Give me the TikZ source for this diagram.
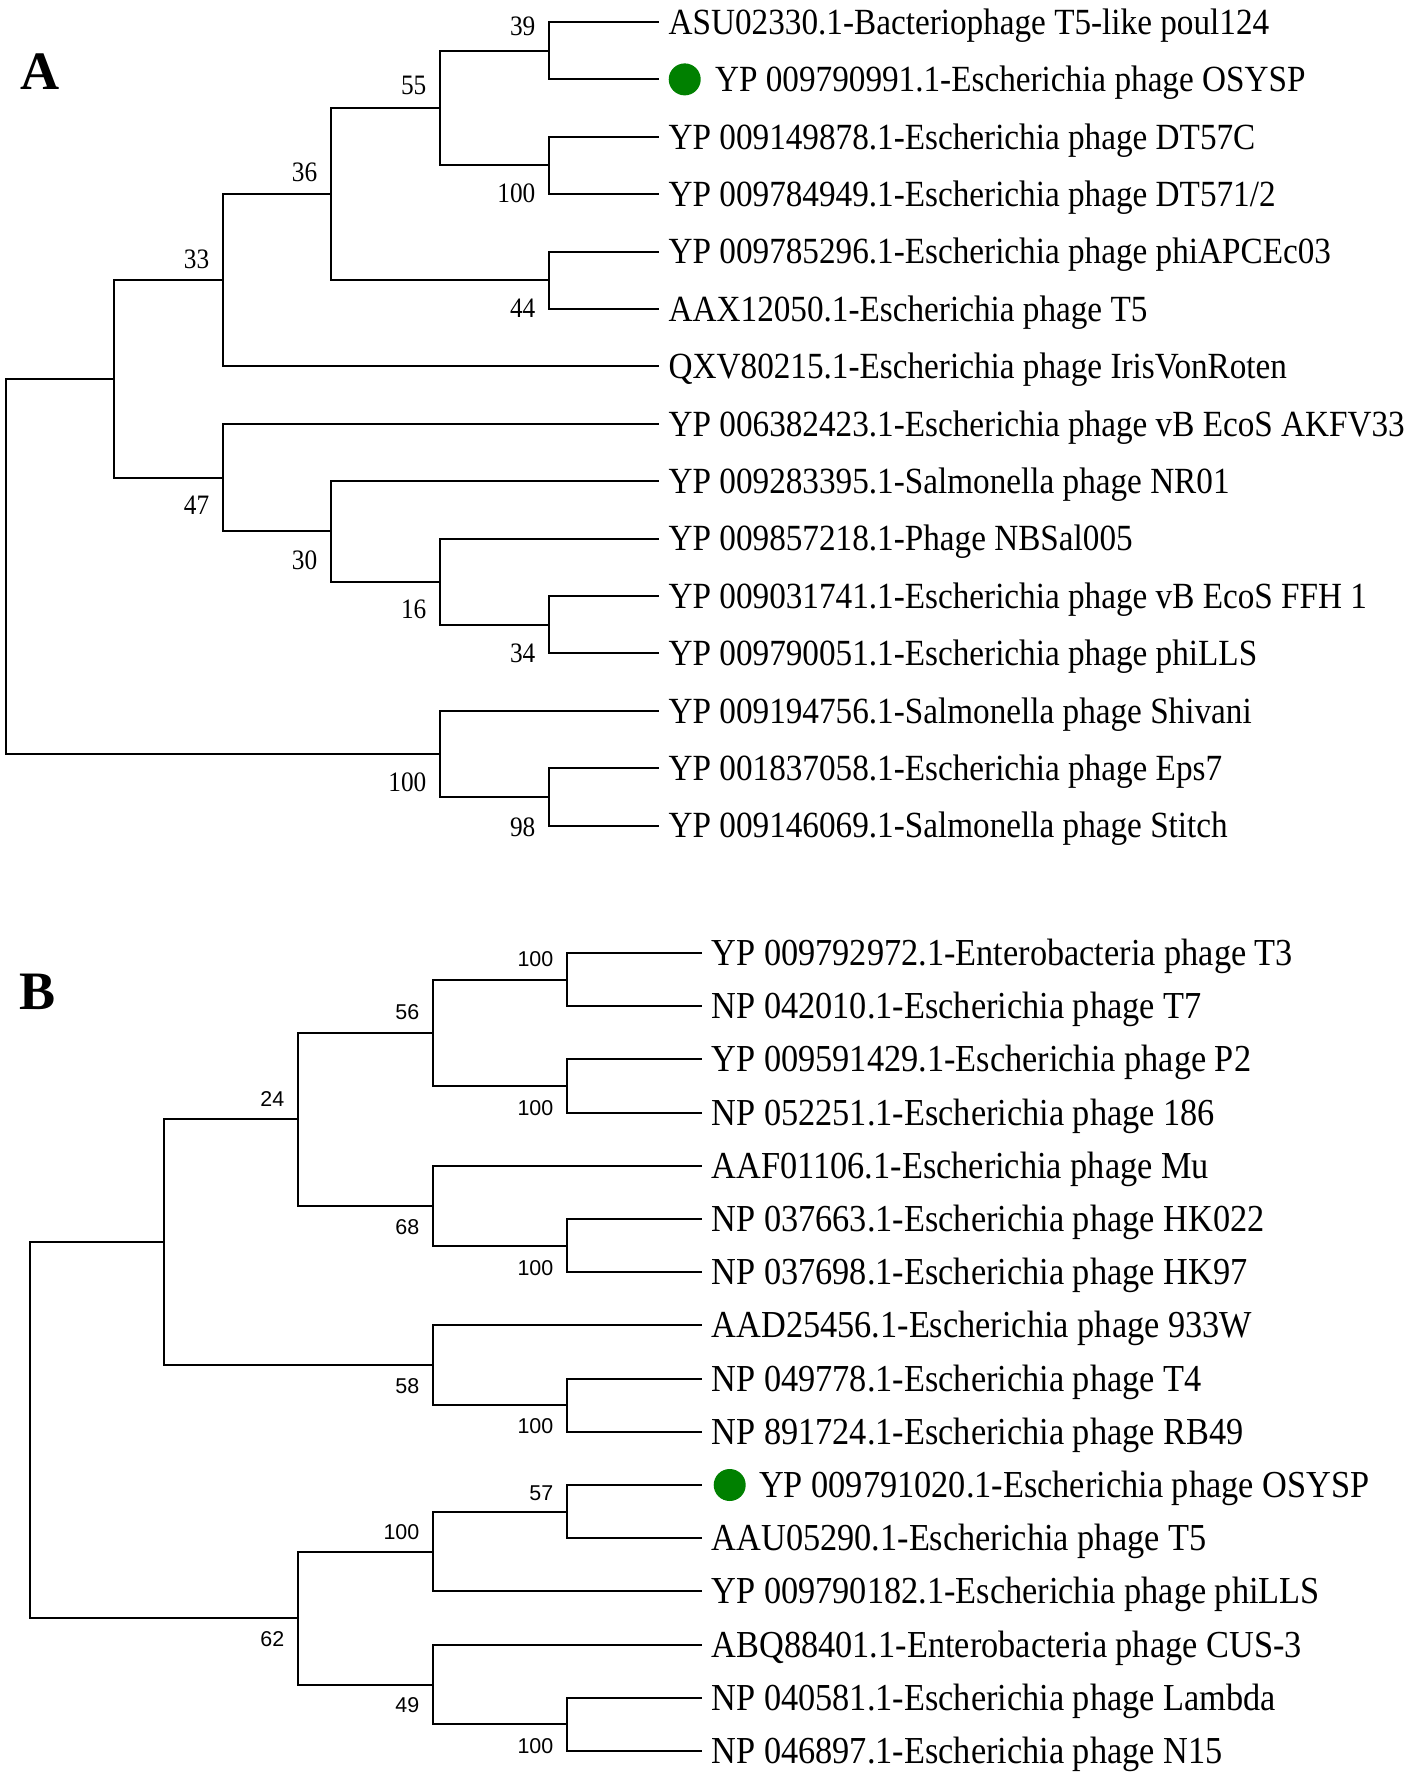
\documentclass[tikz,border=0pt]{standalone}
\usepackage{fontspec}
\setmainfont{Liberation Serif}
\newfontfamily\leaffont[FakeStretch=0.9]{Liberation Serif}
\newfontfamily\bootsans{Liberation Sans}
\usetikzlibrary{positioning}
\definecolor{osyspgreen}{RGB}{0,128,0}

\tikzset{
  branch/.style={line width=0.2mm, black},
  panel/.style={font=\fontsize{15.4pt}{17pt}\selectfont\bfseries, inner sep=0pt, text height=3.6mm, text depth=0pt},
  leafA/.style={font=\leaffont\fontsize{10.5pt}{12pt}\selectfont, inner sep=0pt, text height=2.45mm, text depth=0pt},
  leafB/.style={font=\leaffont\fontsize{10.85pt}{12pt}\selectfont, inner sep=0pt, text height=2.5mm, text depth=0pt},
  bootA/.style={font=\leaffont\fontsize{8pt}{9pt}\selectfont, anchor=east, inner sep=0pt, text height=1.9mm, text depth=0pt},
  bootB/.style={font=\bootsans\fontsize{6.1pt}{7pt}\selectfont, anchor=east, inner sep=0pt, text height=1.55mm, text depth=0pt},
  osysp dot/.style={circle, fill=osyspgreen, minimum size=3.2mm, inner sep=0pt}
}

\begin{document}
\begin{tikzpicture}[x=0.1mm, y=-0.1mm]
    \useasboundingbox (0,0) rectangle (1417,1772);

    % panel letters
    \node[panel] (pA) at (40,72) {A};
    \node[panel] (pB) at (38,991) {B};

    % tree A: leaf ends
    \foreach \i in {0,...,14}
        \coordinate (eA\i) at (659, 22+57.4*\i);

    % tree A: inner nodes
    \coordinate (nA39)   at (549,50.7);
    \coordinate (nA100a) at (549,165.5);
    \coordinate (nA55)   at (440,108.1);
    \coordinate (nA44)   at (549,280.3);
    \coordinate (nA36)   at (331,194.2);
    \coordinate (nA33)   at (223,280.3);
    \coordinate (nA34)   at (549,624.7);
    \coordinate (nA16)   at (440,581.7);
    \coordinate (nA30)   at (331,531.4);
    \coordinate (nA47)   at (223,477.6);
    \coordinate (nA98)   at (549,796.9);
    \coordinate (nA100b) at (440,753.9);
    \coordinate (nAmid)  at (114,379);
    \coordinate (rA)     at (6,566);

    % tree A: branches
    \foreach \p/\c in {nA39/eA0, nA39/eA1, nA100a/eA2, nA100a/eA3, nA55/nA39, nA55/nA100a,
                       nA44/eA4, nA44/eA5, nA36/nA55, nA36/nA44, nA33/nA36, nA33/eA6,
                       nA34/eA10, nA34/eA11, nA16/eA9, nA16/nA34, nA30/eA8, nA30/nA16,
                       nA47/eA7, nA47/nA30, nA98/eA13, nA98/eA14, nA100b/eA12, nA100b/nA98,
                       nAmid/nA33, nAmid/nA47, rA/nAmid, rA/nA100b}
        \draw[branch] (\p) |- (\c);

    % tree A: bootstrap values
    \node[bootA] (bA39)   at (536,26)  {39};
    \node[bootA] (bA55)   at (427,85)  {55};
    \node[bootA] (bA36)   at (318,172) {36};
    \node[bootA] (bA33)   at (210,259) {33};
    \node[bootA] (bA100a) at (536,193) {100};
    \node[bootA] (bA44)   at (536,308) {44};
    \node[bootA] (bA47)   at (210,505) {47};
    \node[bootA] (bA30)   at (318,560) {30};
    \node[bootA] (bA16)   at (427,609) {16};
    \node[bootA] (bA34)   at (536,653) {34};
    \node[bootA] (bA100b) at (427,782) {100};
    \node[bootA] (bA98)   at (536,827) {98};

    % tree A: leaf labels
    \foreach \i/\t in {0/{ASU02330.1-Bacteriophage T5-like poul124},
                       2/{YP 009149878.1-Escherichia phage DT57C},
                       3/{YP 009784949.1-Escherichia phage DT571/2},
                       4/{YP 009785296.1-Escherichia phage phiAPCEc03},
                       5/{AAX12050.1-Escherichia phage T5},
                       6/{QXV80215.1-Escherichia phage IrisVonRoten},
                       7/{YP 006382423.1-Escherichia phage vB EcoS AKFV33},
                       8/{YP 009283395.1-Salmonella phage NR01},
                       9/{YP 009857218.1-Phage NBSal005},
                       10/{YP 009031741.1-Escherichia phage vB EcoS FFH 1},
                       11/{YP 009790051.1-Escherichia phage phiLLS},
                       12/{YP 009194756.1-Salmonella phage Shivani},
                       13/{YP 001837058.1-Escherichia phage Eps7},
                       14/{YP 009146069.1-Salmonella phage Stitch}}
        \node[leafA, right=0.9mm of eA\i] (lA\i) {\t};
    \node[osysp dot, right=0.9mm of eA1] (dA) {};
    \node[leafA, right=1.3mm of dA] (lA1) {YP 009790991.1-Escherichia phage OSYSP};

    % tree B: leaf ends
    \foreach \i in {0,...,15}
        \coordinate (eB\i) at (702, 953+53.2*\i);

    % tree B: inner nodes
    \coordinate (nB100a) at (567,979.6);
    \coordinate (nB100b) at (567,1086);
    \coordinate (nB56)   at (433,1032.8);
    \coordinate (nB100c) at (567,1245.6);
    \coordinate (nB68)   at (433,1205.7);
    \coordinate (nB24)   at (298,1119.3);
    \coordinate (nB100d) at (567,1405.2);
    \coordinate (nB58)   at (433,1365.3);
    \coordinate (nBmid)  at (164,1242.3);
    \coordinate (nB57)   at (567,1511.6);
    \coordinate (nB100e) at (433,1551.5);
    \coordinate (nB100f) at (567,1724.4);
    \coordinate (nB49)   at (433,1684.5);
    \coordinate (nB62)   at (298,1618);
    \coordinate (rB)     at (30,1430.1);

    % tree B: branches
    \foreach \p/\c in {nB100a/eB0, nB100a/eB1, nB100b/eB2, nB100b/eB3, nB56/nB100a, nB56/nB100b,
                       nB100c/eB5, nB100c/eB6, nB68/eB4, nB68/nB100c, nB24/nB56, nB24/nB68,
                       nB100d/eB8, nB100d/eB9, nB58/eB7, nB58/nB100d, nBmid/nB24, nBmid/nB58,
                       nB57/eB10, nB57/eB11, nB100e/nB57, nB100e/eB12,
                       nB100f/eB14, nB100f/eB15, nB49/eB13, nB49/nB100f,
                       nB62/nB100e, nB62/nB49, rB/nBmid, rB/nB62}
        \draw[branch] (\p) |- (\c);

    % tree B: bootstrap values
    \node[bootB] (bB100a) at (554,959)  {100};
    \node[bootB] (bB56)   at (420,1012) {56};
    \node[bootB] (bB24)   at (285,1099) {24};
    \node[bootB] (bB100b) at (554,1108) {100};
    \node[bootB] (bB68)   at (420,1227) {68};
    \node[bootB] (bB100c) at (554,1268) {100};
    \node[bootB] (bB58)   at (420,1386) {58};
    \node[bootB] (bB100d) at (554,1426) {100};
    \node[bootB] (bB57)   at (554,1493) {57};
    \node[bootB] (bB100e) at (420,1532) {100};
    \node[bootB] (bB62)   at (285,1639) {62};
    \node[bootB] (bB49)   at (420,1705) {49};
    \node[bootB] (bB100f) at (554,1746) {100};

    % tree B: leaf labels
    \foreach \i/\t in {0/{YP 009792972.1-Enterobacteria phage T3},
                       1/{NP 042010.1-Escherichia phage T7},
                       2/{YP 009591429.1-Escherichia phage P2},
                       3/{NP 052251.1-Escherichia phage 186},
                       4/{AAF01106.1-Escherichia phage Mu},
                       5/{NP 037663.1-Escherichia phage HK022},
                       6/{NP 037698.1-Escherichia phage HK97},
                       7/{AAD25456.1-Escherichia phage 933W},
                       8/{NP 049778.1-Escherichia phage T4},
                       9/{NP 891724.1-Escherichia phage RB49},
                       11/{AAU05290.1-Escherichia phage T5},
                       12/{YP 009790182.1-Escherichia phage phiLLS},
                       13/{ABQ88401.1-Enterobacteria phage CUS-3},
                       14/{NP 040581.1-Escherichia phage Lambda},
                       15/{NP 046897.1-Escherichia phage N15}}
        \node[leafB, right=0.9mm of eB\i] (lB\i) {\t};
    \node[osysp dot, right=1.1mm of eB10] (dB) {};
    \node[leafB, right=1.2mm of dB] (lB10) {YP 009791020.1-Escherichia phage OSYSP};
\end{tikzpicture}
\end{document}
